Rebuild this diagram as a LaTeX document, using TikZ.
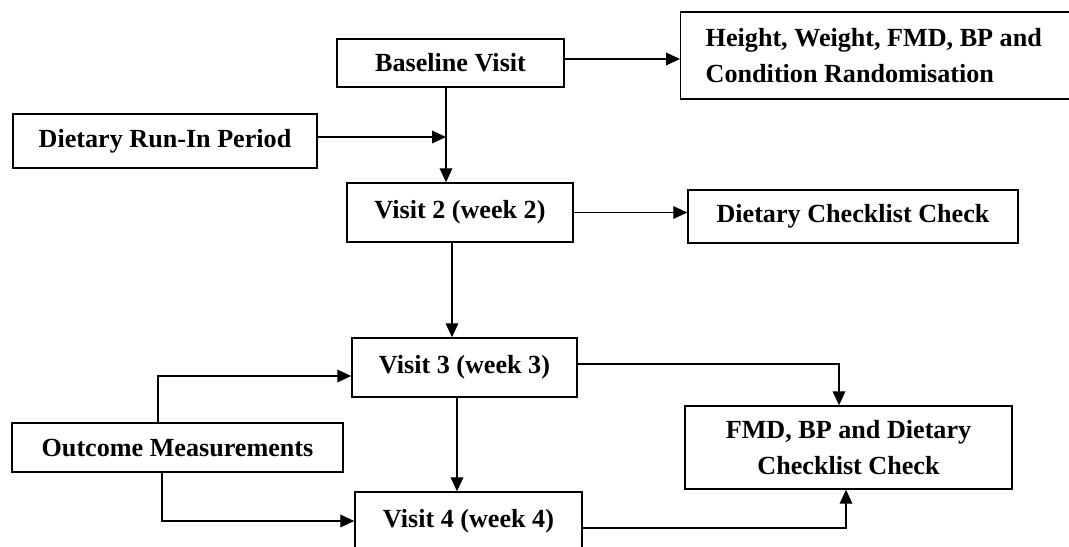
\documentclass[tikz,border=0pt]{standalone}
\usepackage{fontspec}
\setmainfont{Liberation Serif}
\usetikzlibrary{arrows.meta}
\begin{document}
\tikzset{
  box/.style={draw, line width=1.1pt, inner sep=0pt, font=\bfseries\fontsize{19.6}{27}\selectfont, align=center},
  arr/.style={line width=1pt, -{Triangle[length=10.5pt,width=9.5pt]}},
  ln/.style={line width=1pt}
}
\begin{tikzpicture}[x=0.75pt,y=-0.75pt]
\useasboundingbox (0,0) rectangle (1069,546);
\node[box, minimum width=170.25pt, minimum height=36pt] (base) at (450.5,63) {Baseline Visit};
\node[box, anchor=west, align=flush left, text width=280pt, inner xsep=18.75pt, minimum height=65.25pt] (height) at (680,55.5) {Height, Weight, FMD, BP and\\Condition Randomisation};
\node[box, minimum width=228pt, minimum height=40.5pt] (runin) at (165,141) {Dietary Run-In Period};
\node[box, minimum width=169.5pt, minimum height=44.25pt] (v2) at (460,212.5) {Visit 2 (week 2)};
\node[box, minimum width=247.5pt, minimum height=39.75pt] (dcc) at (853,216.5) {Dietary Checklist Check};
\node[box, minimum width=168.75pt, minimum height=44.25pt] (v3) at (464.5,367.5) {Visit 3 (week 3)};
\node[box, minimum width=245.25pt, minimum height=62.25pt] (fmd) at (848.5,447.5) {FMD, BP and Dietary\\Checklist Check};
\node[box, minimum width=248.25pt, minimum height=36.75pt] (out) at (177.5,447.5) {Outcome Measurements};
\node[box, minimum width=170.25pt, minimum height=44.25pt] (v4) at (468.5,521.5) {Visit 4 (week 4)};
\coordinate (j1) at (446,137);
\draw[arr] (base.east |- 0,59) -- (height.west |- 0,59);
\draw[arr] (runin.east |- j1) -- (j1);
\draw[arr] (base.south -| j1) -- (v2.north -| j1);
\draw[arr] (v2.east) -- (dcc.west |- v2.east);
\draw[arr] (v2.south -| 452,0) -- (v3.north -| 452,0);
\draw[arr] (v3.east |- 0,364) -| (fmd.north -| 839,0);
\draw[arr] (v3.south -| 457,0) -- (v4.north -| 457,0);
\draw[arr] (out.north -| 158,0) |- (v3.west |- 0,376);
\draw[arr] (out.south -| 162,0) |- (v4.west |- 0,521);
\draw[arr] (v4.east |- 0,528) -| (fmd.south -| 846,0);
\end{tikzpicture}
\end{document}
